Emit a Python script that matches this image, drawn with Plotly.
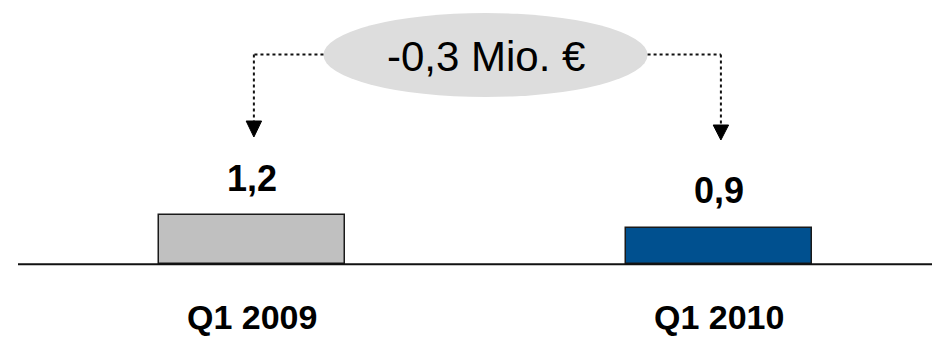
import plotly.graph_objects as go

# Quarterly result comparison
categories = ["Q1 2009", "Q1 2010"]
values = [1.2, 0.9]
value_labels = ["1,2", "0,9"]
bar_colors = ["#C0C0C0", "#00508F"]
delta_label = "-0,3 Mio. €"

W, H = 932, 337
xpos = list(range(len(categories)))

# axis ranges chosen so that the baseline sits near the lower quarter of the canvas
x_range = [-0.5396, 1.456]
px_per_unit = 40.8
baseline_px = 264.3
y_range = [-(H - baseline_px) / px_per_unit, baseline_px / px_per_unit]

fig = go.Figure()
fig.add_trace(go.Bar(
    x=xpos, y=values, width=0.4,
    marker=dict(color=bar_colors, line=dict(color="#1a1a1a", width=1.5)),
    hoverinfo="skip", showlegend=False,
))

value_font = dict(family="Liberation Sans, Arial, sans-serif", size=36, color="#000000")
cat_font = dict(family="Liberation Sans, Arial, sans-serif", size=34, color="#000000")

annotations = []
for x, v, lab in zip(xpos, values, value_labels):
    annotations.append(dict(x=x, y=v, xref="x", yref="y", text=f"<b>{lab}</b>",
                            showarrow=False, yanchor="middle", yshift=37,
                            font=value_font))
for x, cat in zip(xpos, categories):
    annotations.append(dict(x=x, y=0, xref="x", yref="y", text=f"<b>{cat}</b>",
                            showarrow=False, yanchor="middle", yshift=-53,
                            font=cat_font, borderpad=0))

mid = sum(xpos) / len(xpos)
annotations.append(dict(x=mid, y=0.832, xref="x", yref="paper", text=delta_label,
                        showarrow=False, yanchor="middle",
                        font=dict(family="Liberation Sans, Arial, sans-serif",
                                  size=42, color="#000000")))

shapes = []
# baseline
shapes.append(dict(type="line", xref="paper", yref="y", x0=18 / W, x1=1, y0=0, y1=0,
                   line=dict(color="#111111", width=2)))
# ellipse behind the delta label
half_w = 0.347
shapes.append(dict(type="circle", xref="x", yref="paper", layer="below",
                   x0=mid - half_w, x1=mid + half_w, y0=1 - 97 / H, y1=1 - 13 / H,
                   fillcolor="#DDDDDD", line=dict(width=0)))

# dotted connectors ending in arrowheads above each bar
conn_y = 1 - 54.5 / H
arrow_x = [xpos[0] + 0.004, xpos[1] + 0.004]
head_top = [1 - 121 / H, 1 - 125 / H]
head_tip = [1 - 137 / H, 1 - 140 / H]
edge_x = [mid - half_w, mid + half_w]
hw = 0.0165
for ax, ex, ht, tip in zip(arrow_x, edge_x, head_top, head_tip):
    shapes.append(dict(type="line", xref="x", yref="paper", x0=ex, x1=ax,
                       y0=conn_y, y1=conn_y, line=dict(color="#111111", width=2, dash="dot")))
    shapes.append(dict(type="line", xref="x", yref="paper", x0=ax, x1=ax,
                       y0=conn_y, y1=ht, line=dict(color="#111111", width=2, dash="dot")))
    shapes.append(dict(type="path", xref="x", yref="paper",
                       path=f"M {ax - hw},{ht} L {ax + hw},{ht} L {ax},{tip} Z",
                       fillcolor="#000000", line=dict(color="#000000", width=1)))

fig.update_layout(
    width=W, height=H,
    margin=dict(l=0, r=0, t=0, b=0),
    paper_bgcolor="white", plot_bgcolor="white",
    xaxis=dict(range=x_range, visible=False, fixedrange=True),
    yaxis=dict(range=y_range, visible=False, fixedrange=True),
    annotations=annotations, shapes=shapes,
    bargap=0,
)

fig.write_html("out.html", config={"displayModeBar": False})
